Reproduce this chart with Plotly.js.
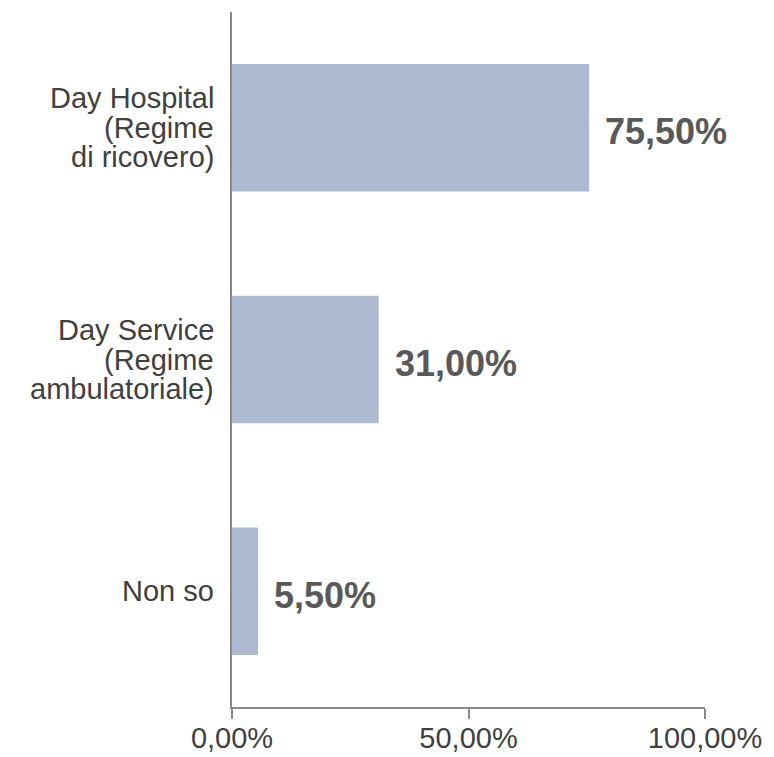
<!DOCTYPE html>
<html>
<head>
<meta charset="utf-8">
<script src="https://cdn.plot.ly/plotly-3.0.1.min.js"></script>
<style>html,body{margin:0;padding:0;background:#fff;}#chart{width:774px;height:757px;}</style>
</head>
<body>
<div id="chart"></div>
<script>
var categories = ["Day Hospital<br>(Regime<br>di ricovero)", "Day Service<br>(Regime<br>ambulatoriale)", "Non so"];
var values = [0.755, 0.31, 0.055];
var valueLabels = ["75,50%", "31,00%", "5,50%"];
var tickVals = [0, 0.5, 1];
var tickText = ["0,00%", "50,00%", "100,00%"];

var font = "Liberation Sans, Arial, sans-serif";
var annotations = [];
var lineGap = 29.5;
categories.forEach(function (c, i) {
  var lines = c.split("<br>");
  lines.forEach(function (ln, j) {
    annotations.push({
      xref: "paper", yref: "y", x: 0, y: c,
      text: ln, showarrow: false, xanchor: "right", yanchor: "middle",
      xshift: -16, yshift: ((lines.length - 1) / 2 - j) * lineGap,
      font: {family: font, size: 29, color: "#404040"}
    });
  });
  annotations.push({
    xref: "x", yref: "y", x: values[i], y: c,
    text: "<b>" + valueLabels[i] + "</b>", showarrow: false,
    xanchor: "left", yanchor: "middle", xshift: 14, yshift: -4,
    font: {family: font, size: 36, color: "#595959"}
  });
});

var data = [{
  type: "bar", orientation: "h",
  x: values, y: categories,
  marker: {color: "#adb9d1"},
  hoverinfo: "none"
}];

var layout = {
  width: 774, height: 757,
  margin: {l: 232, r: 69, t: 12, b: 50},
  paper_bgcolor: "#fff", plot_bgcolor: "#fff",
  showlegend: false,
  bargap: 0.45,
  font: {family: font, color: "#404040"},
  xaxis: {
    range: [0, 1], tickvals: tickVals, ticktext: tickText,
    showgrid: false, zeroline: false,
    showline: true, linecolor: "#898989", linewidth: 2,
    ticks: "outside", ticklen: 10, tickwidth: 2, tickcolor: "#898989",
    ticklabelstandoff: -6,
    tickfont: {family: font, size: 29, color: "#404040"},
    automargin: false, fixedrange: true
  },
  yaxis: {
    autorange: "reversed", showticklabels: false,
    showgrid: false, zeroline: false,
    showline: true, linecolor: "#898989", linewidth: 2,
    ticks: "", automargin: false, fixedrange: true
  },
  annotations: annotations
};

Plotly.newPlot("chart", data, layout, {displayModeBar: false, staticPlot: true});
</script>
</body>
</html>
